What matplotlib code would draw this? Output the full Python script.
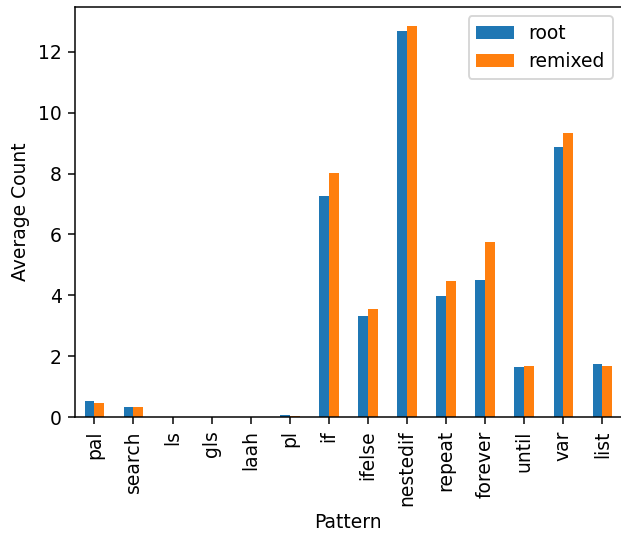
import numpy as np
import pandas as pd
import matplotlib
matplotlib.use('Agg')
import matplotlib.pyplot as plt

# values
patterns = ['pal', 'search', 'ls', 'gls', 'laah', 'pl', 'if', 'ifelse',
            'nestedif', 'repeat', 'forever', 'until', 'var', 'list']
root = [0.52, 0.33, 0.0, 0.0, 0.0, 0.06, 7.25, 3.33,
        12.69, 3.97, 4.51, 1.65, 8.87, 1.75]
remixed = [0.47, 0.33, 0.0, 0.0, 0.0, 0.05, 8.01, 3.55,
           12.83, 4.46, 5.75, 1.69, 9.32, 1.69]

df = pd.DataFrame({'root': root, 'remixed': remixed}, index=patterns)
df.index.name = 'Pattern'

dpi = 135
fig = plt.figure(figsize=(621 / dpi, 534 / dpi), dpi=dpi)
ax = fig.add_axes([0.1205, 0.219, 0.881, 0.768])
df.plot.bar(ax=ax)
ax.set_ylabel('Average Count')
ax.set_xlabel('Pattern')
ax.legend(loc='upper right')

fig.savefig('out.png', dpi=dpi)
